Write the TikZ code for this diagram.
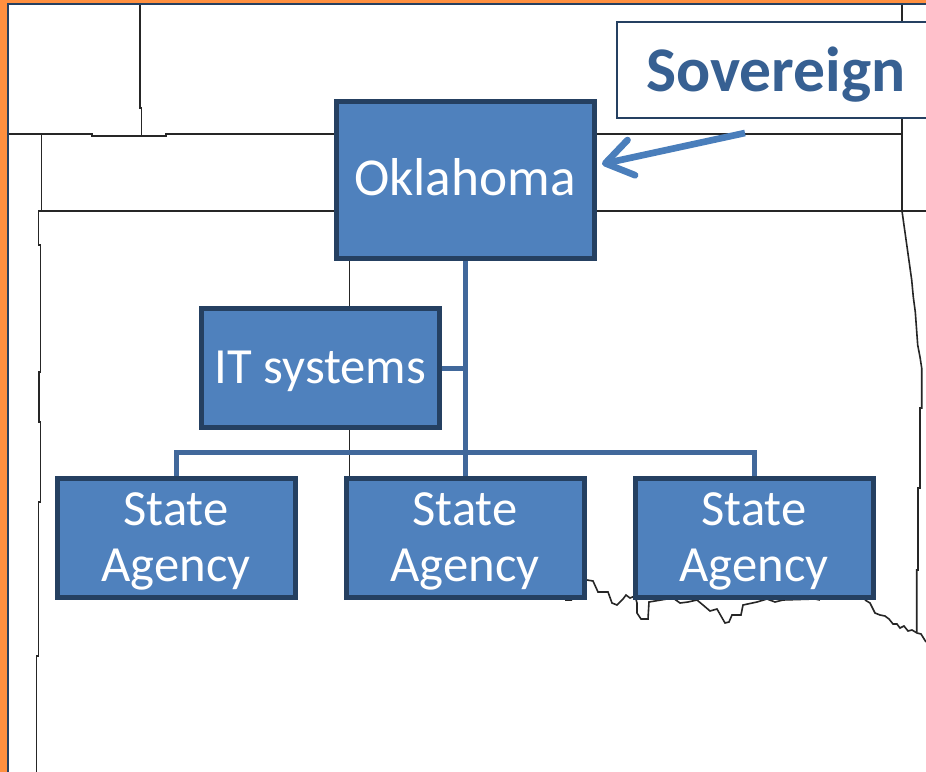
\documentclass[tikz,border=0pt]{standalone}
\usepackage{fontspec}
\setmainfont{Carlito}
\usetikzlibrary{arrows.meta}
\definecolor{boxfill}{HTML}{4F81BD}
\definecolor{boxline}{HTML}{254061}
\definecolor{wireline}{HTML}{41689B}
\definecolor{signtext}{HTML}{376092}
\definecolor{signarrow}{HTML}{4A7EBB}
\definecolor{frameline}{HTML}{FF9040}
\begin{document}
\begin{tikzpicture}[x=.75pt,y=-.75pt,
	unit/.style={draw=boxline,fill=boxfill,line width=3.75pt,text=white,align=center,inner sep=0pt,minimum width=178.5pt,minimum height=89.25pt,font=\fontsize{38}{42}\selectfont},
	wire/.style={draw=wireline,line width=3.75pt},
	border/.style={draw=black!85,line width=1.2pt}]
\useasboundingbox (0,0) rectangle (926,772);
\clip (0,0) rectangle (926,772);
\fill[frameline] (0,0) rectangle (926,772);
\fill[boxline] (7,3.3) rectangle (926,772);
\fill[white] (8.7,5) rectangle (926,772);

\draw[border] (140,5) -- (140,108) -- (141.5,108) -- (141.5,136);
\draw[border] (8.7,134) -- (92,134) -- (92,136) -- (166,136) -- (166,134) -- (902,134);
\draw[border] (41.5,134) -- (41.5,211) -- (38.5,211) -- (38.5,245) -- (40.5,245) -- (40.5,372) -- (38.7,372) -- (38.7,422) -- (40.5,422) -- (40.5,502) -- (38.3,502) -- (38.3,656) -- (36.3,656) -- (36.3,772);
\draw[border] (38.5,211) -- (926,211);
\draw[border] (349.3,211) -- (349.3,477);
\draw[border] (902,5) -- (902,211) -- (911.7,280) -- (913.3,297) -- (915.3,312) -- (917.7,345) -- (920,357) -- (921.7,368) -- (921.7,408) -- (920,408) -- (920,488) -- (918,488) -- (918,570) -- (916.7,570) -- (916.7,632);
\draw[border] (565,600) -- (572,600) (587,580) -- (593,581) -- (598,592) -- (608,592) -- (612,603) -- (617,605) -- (623,599) -- (626,595) -- (630,598) -- (635,596) -- (637,603) -- (637,613) -- (641,619) -- (648,619) -- (649,602) -- (655,601) -- (673,598) -- (680,603) -- (688,602) -- (697,600) -- (703,605) -- (710,611) -- (717,609) -- (725,623) -- (729,622) -- (732,615) -- (741,615) -- (743,605) -- (757,602) -- (767,599) -- (775,602) -- (783,600) -- (815,599) -- (820,600);
\draw[border] (865,600) -- (870,603) -- (875,613) -- (880,615) -- (885,616) -- (889,619) -- (893,624) -- (897,624) -- (900,628) -- (904,626) -- (908,631) -- (912,630) -- (917,633) -- (921,634) -- (926,642);

\node[unit,minimum width=193.5pt,minimum height=117.75pt,text height=24pt,text depth=0pt,font=\fontsize{40}{42}\selectfont] (oklahoma) at (465,179.5) {Oklahoma};
\node[unit,text height=23.6pt,text depth=0pt] (systems) at (320.5,368) {IT systems};
\foreach \number/\x in {1/176,2/465,3/754}
	\node[unit] (agency\number) at (\x,537.5) {\rule{0pt}{31pt}State\\Agency};
\coordinate (bar) at (465,452);
\draw[wire] (oklahoma) -- (agency2);
\draw[wire] (systems) -- (systems -| oklahoma);
\draw[wire] (agency1) |- (bar) -| (agency3);

\node[draw=boxline,fill=white,line width=1.5pt,text=signtext,inner sep=0pt,minimum width=238pt,minimum height=72pt,text height=33.4pt,text depth=0pt,font=\fontsize{47.7}{50}\selectfont\bfseries] (sovereign) at (776,69.5) {Sovereign};
\coordinate (sovereigntail) at (745,133);
\coordinate (sovereigntip) at (602,164);
\draw[draw=signarrow,line width=5pt,-{Straight Barb[length=20pt,width=27pt,round]}] (sovereigntail) -- (sovereigntip);
\end{tikzpicture}
\end{document}
